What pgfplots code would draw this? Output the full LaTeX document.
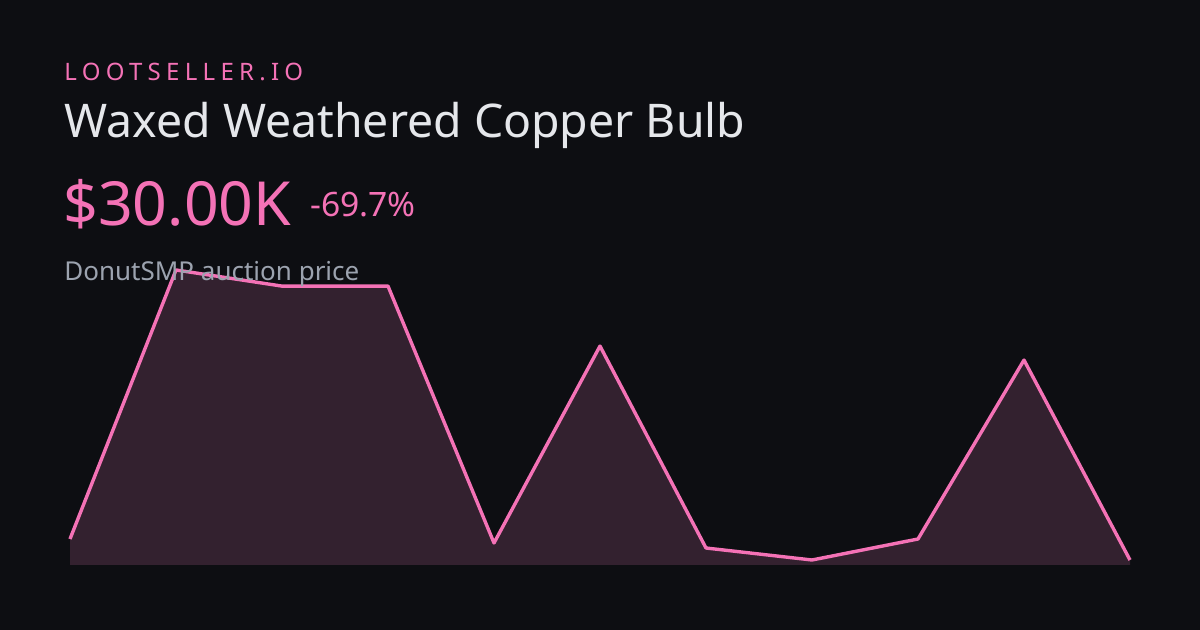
\documentclass[border=0pt]{standalone}
\usepackage{pgfplots}
\pgfplotsset{compat=1.18}
\usepackage{fontspec}
\setmainfont{Noto Sans}
\newfontfamily\spaced[LetterSpace=22]{Noto Sans}
\definecolor{bg}{HTML}{0D0E12}
\definecolor{pinkline}{HTML}{F472B6}
\definecolor{pinkfill}{HTML}{33212F}
\definecolor{titlec}{HTML}{E5E7EB}
\definecolor{subc}{HTML}{9CA3AF}
\begin{document}
\begin{tikzpicture}
\fill[bg] (0pt,0pt) rectangle (600pt,315pt);
\begin{axis}[
  at={(35pt,32.5pt)}, anchor=south west,
  scale only axis, width=530pt, height=147.5pt,
  xmin=0, xmax=10, ymin=13.6, ymax=983,
  axis lines=none, ticks=none, clip=false,
]
\addplot[fill=pinkfill, draw=none] coordinates {
(0,99.0) (1,983) (2,930) (3,930) (4,85.9) (5,733) (6,69.4) (7,30) (8,99.0) (9,687) (10,30)
} |- (axis cs:0,13.6) -- cycle;
\addplot[pinkline, line width=1.7pt, line join=round] coordinates {
(0,99.0) (1,983) (2,930) (3,930) (4,85.9) (5,733) (6,69.4) (7,30) (8,99.0) (9,687) (10,30)
};
\end{axis}
\node[anchor=base west, inner sep=0, text=pinkline, font=\spaced\fontsize{12pt}{14pt}\selectfont] at (32pt,274.5pt) {LOOTSELLER.IO};
\node[anchor=base west, inner sep=0, text=titlec, font=\fontsize{23.2pt}{28pt}\selectfont] at (32pt,246pt) {Waxed Weathered Copper Bulb};
\node[anchor=base west, inner sep=0, text=pinkline, font=\fontsize{30.4pt}{34pt}\selectfont] at (31.5pt,202pt) {\$30.00K};
\node[anchor=base west, inner sep=0, text=pinkline, font=\fontsize{16.8pt}{18pt}\selectfont] at (155pt,206.5pt) {-69.7\%};
\node[anchor=base west, inner sep=0, text=subc, font=\fontsize{13pt}{14pt}\selectfont] at (32pt,174.5pt) {DonutSMP auction price};
\end{tikzpicture}
\end{document}
